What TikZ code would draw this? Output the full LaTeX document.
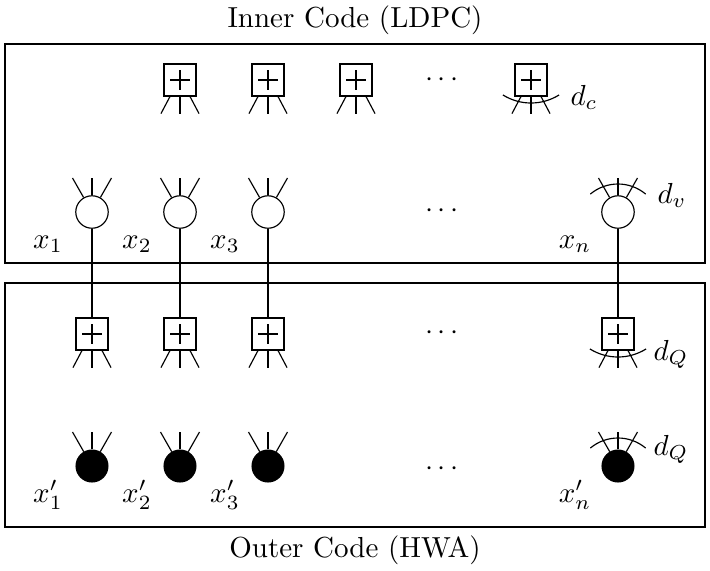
\documentclass[tikz,border=0pt]{standalone}
\usetikzlibrary{calc}
\begin{document}
\begin{tikzpicture}[x=0.345pt,y=0.345pt,
  chk/.style={draw, rectangle, minimum size=11pt, inner sep=0pt},
  vnode/.style={draw, circle, minimum size=11.2pt, inner sep=0pt},
  bnode/.style={draw, circle, fill=black, minimum size=11pt, inner sep=0pt},
  lbl/.style={anchor=base, inner sep=0pt},
  dlbl/.style={anchor=base west, inner sep=0pt},
  frame/.style={draw}]
\useasboundingbox (0,0) rectangle (710,-570);
% frames
\draw[frame] (5,-44) rectangle (705,-263);
\draw[frame] (5,-283) rectangle (705,-527);
\node[anchor=base, inner sep=0pt] (tin) at (355,-27) {Inner Code (LDPC)};
\node[anchor=base, inner sep=0pt] (tout) at (355,-557) {Outer Code (HWA)};
% top check nodes
\node[chk] (t1) at (180,-80) {};
\node[chk] (t2) at (268,-80) {};
\node[chk] (t3) at (356,-80) {};
\node[chk] (t4) at (531,-80) {};
\node (td) at (442,-80) {$\cdots$};
% variable nodes
\node[vnode] (v1) at (92,-212) {};
\node[vnode] (v2) at (180,-212) {};
\node[vnode] (v3) at (268,-212) {};
\node[vnode] (v4) at (618,-212) {};
\node (vd) at (442,-211) {$\cdots$};
% bottom check nodes
\node[chk] (q1) at (92,-334) {};
\node[chk] (q2) at (180,-334) {};
\node[chk] (q3) at (268,-334) {};
\node[chk] (q4) at (618,-334) {};
\node (qd) at (442,-333) {$\cdots$};
% black nodes
\node[bnode] (b1) at (92,-466) {};
\node[bnode] (b2) at (180,-466) {};
\node[bnode] (b3) at (268,-466) {};
\node[bnode] (b4) at (618,-466) {};
\node (bd) at (442,-469) {$\cdots$};
% plus signs and legs of check nodes
\foreach \n in {t1,t2,t3,t4,q1,q2,q3,q4}{
  \draw ([xshift=-3.4pt]\n.center) -- ([xshift=3.4pt]\n.center);
  \draw ([yshift=-3.3pt]\n.center) -- ([yshift=3.3pt]\n.center);
  \draw ([xshift=-3.45pt]\n.south) -- ([shift={(-19,-17)}]\n.south);
  \draw (\n.south) -- ([shift={(0,-17)}]\n.south);
  \draw ([xshift=3.45pt]\n.south) -- ([shift={(19,-17)}]\n.south);
}
% legs of variable and black nodes
\foreach \n in {v1,v2,v3,v4,b1,b2,b3,b4}{
  \draw (\n.120) -- ([shift={(-19.5,34)}]\n.center);
  \draw (\n.north) -- ([shift={(0,34)}]\n.center);
  \draw (\n.60) -- ([shift={(19.5,34)}]\n.center);
}
% degree arcs
\draw (t4.center) ++(0,30) ++(-122:53) arc[start angle=-122,end angle=-58,radius=53];
\draw (q4.center) ++(0,30) ++(-122:53) arc[start angle=-122,end angle=-58,radius=53];
\draw (v4.center) ++(0,-15) ++(50:43) arc[start angle=50,end angle=130,radius=43];
\draw (b4.center) ++(0,-15) ++(50:43) arc[start angle=50,end angle=130,radius=43];
% connections
\draw (v1) -- (q1);
\draw (v2) -- (q2);
\draw (v3) -- (q3);
\draw (v4) -- (q4);
% labels
\node[lbl] (lx1) at (48,-248) {$x_1$};
\node[lbl] (lx2) at (137,-248) {$x_2$};
\node[lbl] (lx3) at (225,-248) {$x_3$};
\node[lbl] (lxn) at (575,-248) {$x_n$};
\node[lbl] (ly1) at (48,-502) {$x'_1$};
\node[lbl] (ly2) at (137,-502) {$x'_2$};
\node[lbl] (ly3) at (225,-502) {$x'_3$};
\node[lbl] (lyn) at (575,-502) {$x'_n$};
\node[dlbl] (ldc) at (570,-105) {$d_c$};
\node[dlbl] (ldv) at (657,-203) {$d_v$};
\node[dlbl] (ldq1) at (653,-360) {$d_Q$};
\node[dlbl] (ldq2) at (653,-455) {$d_Q$};
\end{tikzpicture}
\end{document}
